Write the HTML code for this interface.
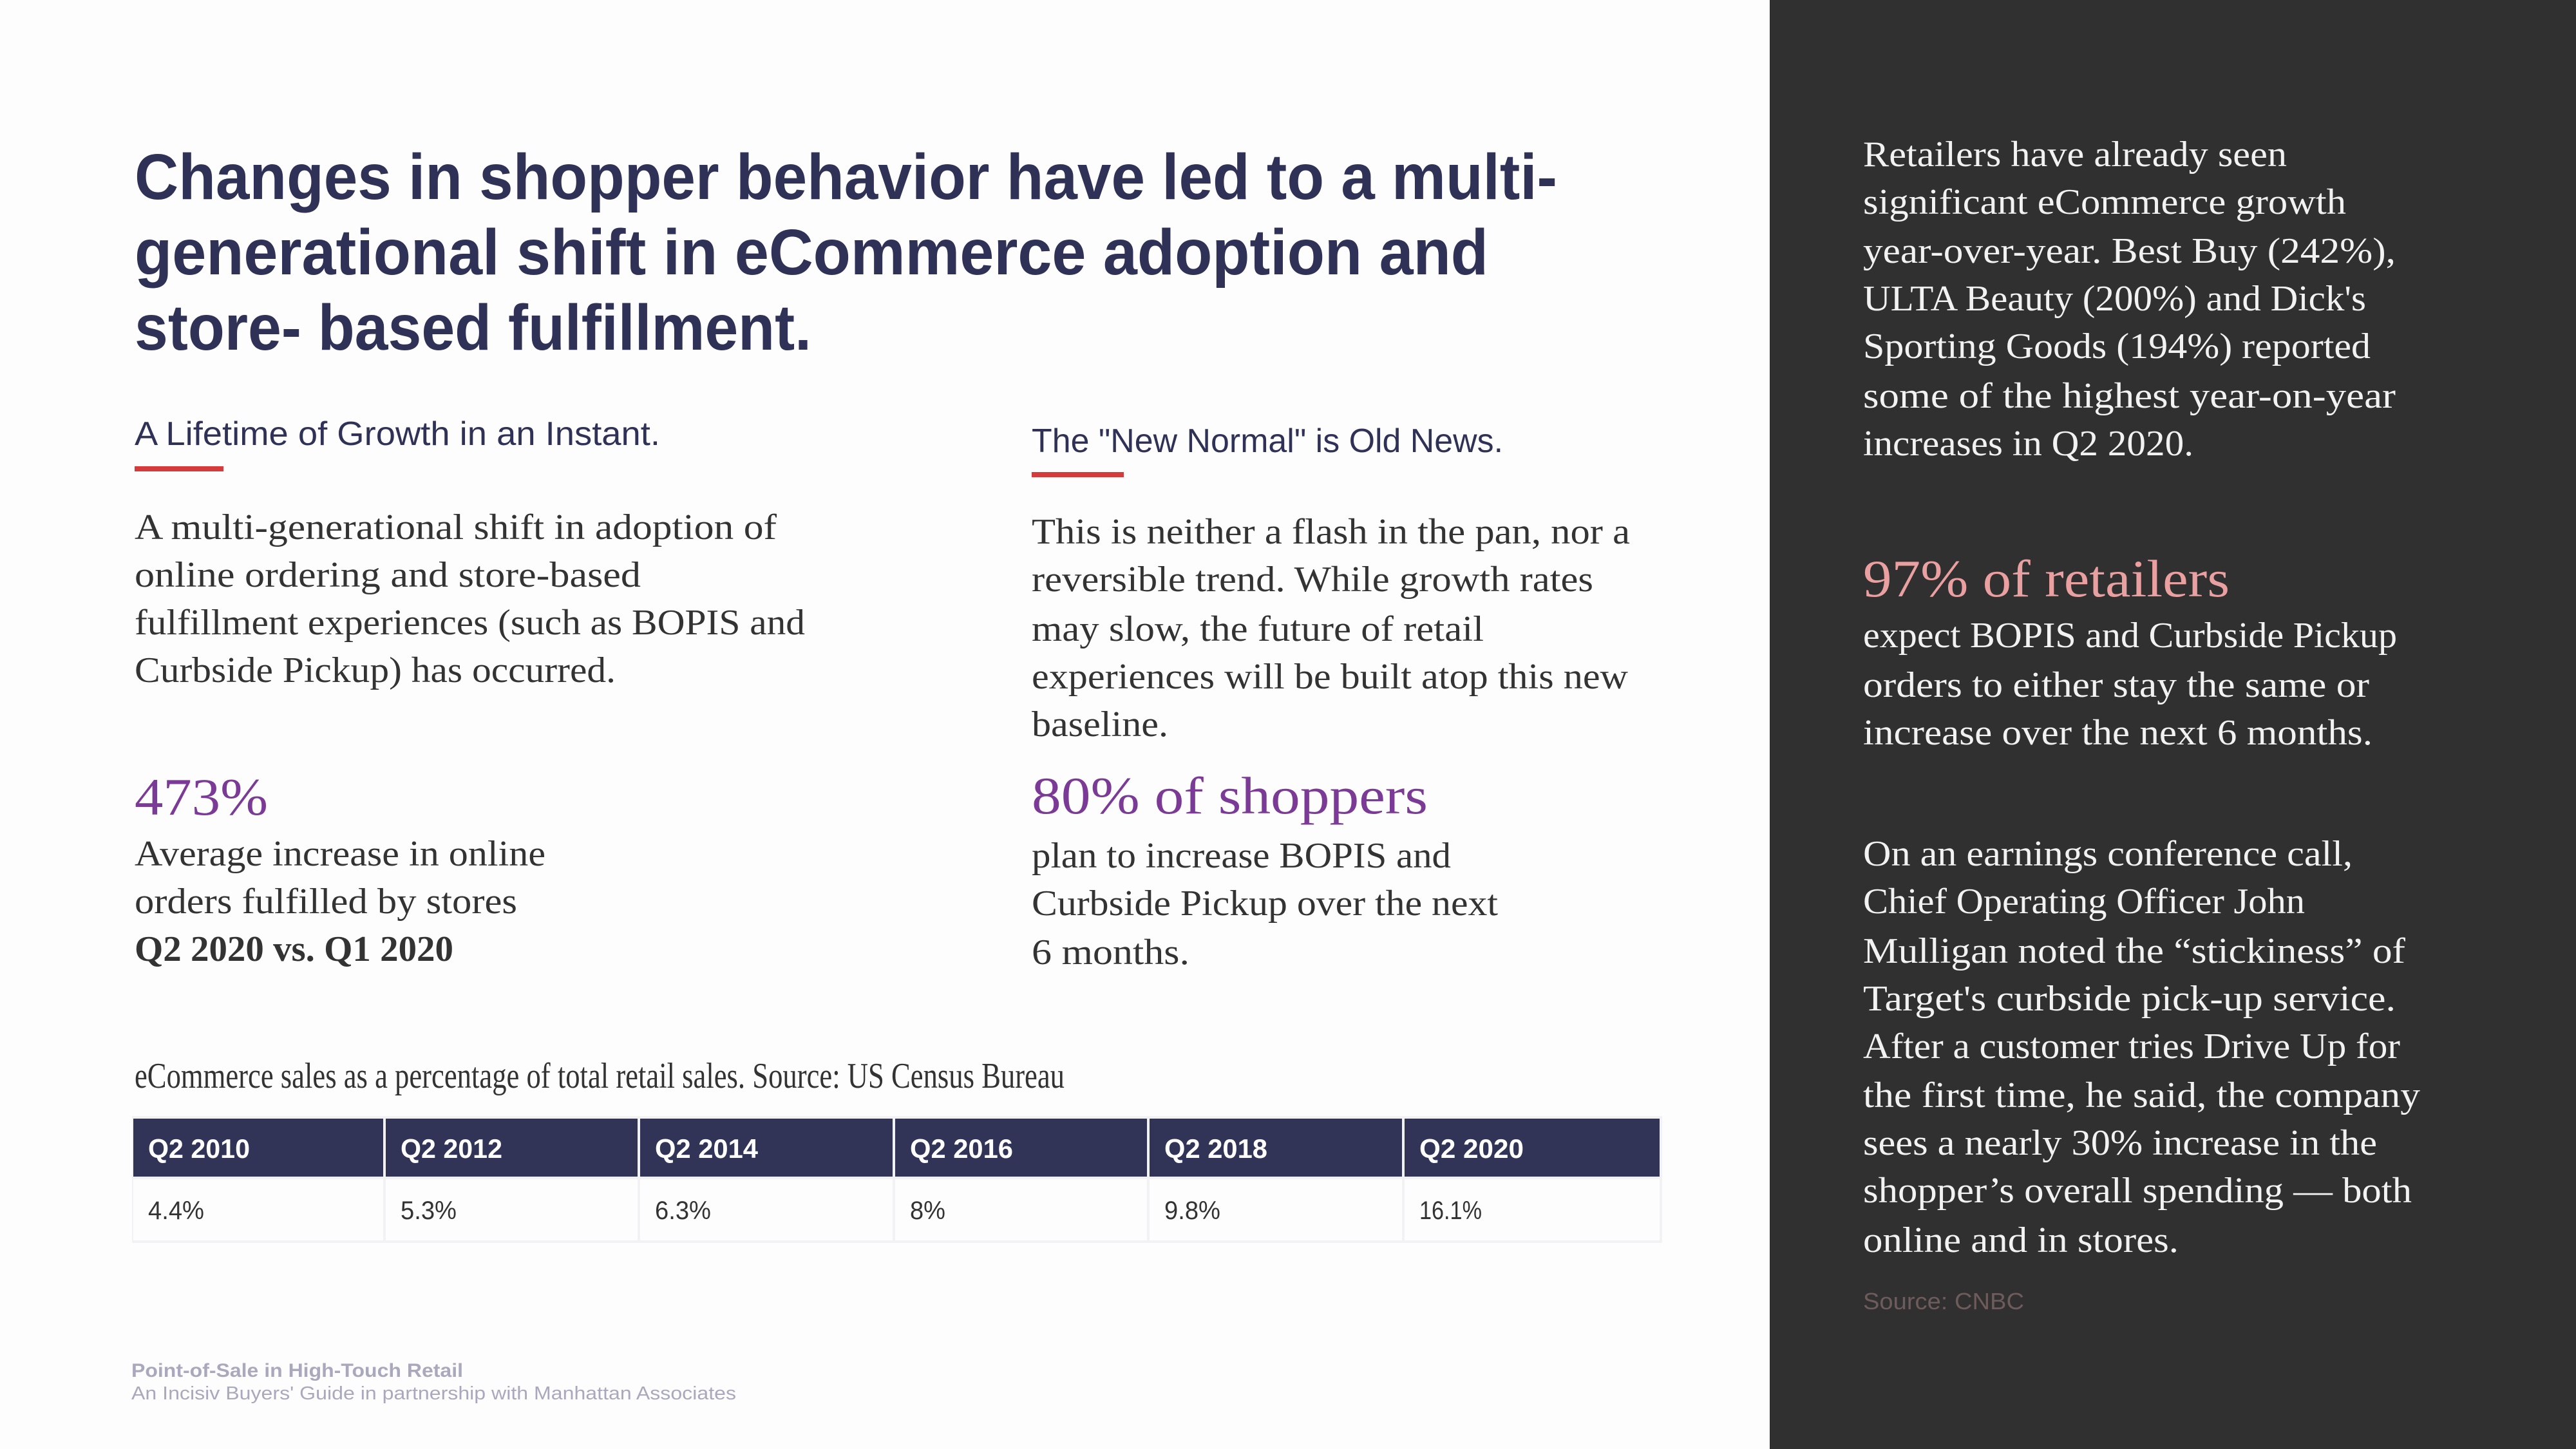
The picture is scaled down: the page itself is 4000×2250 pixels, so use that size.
<!DOCTYPE html>
<html><head><meta charset="utf-8"><style>
html,body{margin:0;padding:0;background:#fdfdfd;}
svg{display:block}
.t{font-family:"Liberation Sans",sans-serif;font-weight:bold;fill:#2f3156;font-size:100px}
.s{font-family:"Liberation Sans",sans-serif;fill:#2f3156;font-size:52px}
.b{font-family:"Liberation Serif",serif;fill:#333;font-size:56px}
.big{font-family:"Liberation Serif",serif;fill:#7b3a96;font-size:82px}
.w{font-family:"Liberation Serif",serif;fill:#f2f2f2;font-size:56px}
.pk{font-family:"Liberation Serif",serif;fill:#eaa0a0;font-size:82px}
.th{font-family:"Liberation Sans",sans-serif;font-weight:bold;fill:#fff;font-size:42px}
.td{font-family:"Liberation Sans",sans-serif;fill:#333;font-size:40px}
</style></head><body>
<svg width="4000" height="2250" viewBox="0 0 4000 2250" xmlns="http://www.w3.org/2000/svg">
<rect width="4000" height="2250" fill="#fdfdfd"/>
<rect x="2748" y="0" width="1252" height="2250" fill="#303030"/>

<text class="t" x="209" y="309" textLength="2209" lengthAdjust="spacingAndGlyphs">Changes in shopper behavior have led to a multi-</text>
<text class="t" x="209" y="426" textLength="2102" lengthAdjust="spacingAndGlyphs">generational shift in eCommerce adoption and</text>
<text class="t" x="209" y="543" textLength="1051" lengthAdjust="spacingAndGlyphs">store- based fulfillment.</text>

<text class="s" x="209" y="691" textLength="816" lengthAdjust="spacingAndGlyphs">A Lifetime of Growth in an Instant.</text>
<rect x="209" y="724" width="138" height="8" fill="#d63b3b"/>
<text class="s" x="1602" y="702" textLength="732" lengthAdjust="spacingAndGlyphs">The "New Normal" is Old News.</text>
<rect x="1602" y="733" width="143" height="8" fill="#d63b3b"/>

<text class="b" x="209" y="837" textLength="997" lengthAdjust="spacingAndGlyphs">A multi-generational shift in adoption of</text>
<text class="b" x="209" y="911" textLength="786" lengthAdjust="spacingAndGlyphs">online ordering and store-based</text>
<text class="b" x="209" y="985" textLength="1041" lengthAdjust="spacingAndGlyphs">fulfillment experiences (such as BOPIS and</text>
<text class="b" x="209" y="1059" textLength="747" lengthAdjust="spacingAndGlyphs">Curbside Pickup) has occurred.</text>

<text class="b" x="1602" y="844" textLength="929" lengthAdjust="spacingAndGlyphs">This is neither a flash in the pan, nor a</text>
<text class="b" x="1602" y="918" textLength="872" lengthAdjust="spacingAndGlyphs">reversible trend. While growth rates</text>
<text class="b" x="1602" y="995" textLength="702" lengthAdjust="spacingAndGlyphs">may slow, the future of retail</text>
<text class="b" x="1602" y="1069" textLength="926" lengthAdjust="spacingAndGlyphs">experiences will be built atop this new</text>
<text class="b" x="1602" y="1143" textLength="212" lengthAdjust="spacingAndGlyphs">baseline.</text>

<text class="big" x="209" y="1265" textLength="207" lengthAdjust="spacingAndGlyphs">473%</text>
<text class="b" x="209" y="1344" textLength="638" lengthAdjust="spacingAndGlyphs">Average increase in online</text>
<text class="b" x="209" y="1418" textLength="594" lengthAdjust="spacingAndGlyphs">orders fulfilled by stores</text>
<text class="b" x="209" y="1492" textLength="495" lengthAdjust="spacingAndGlyphs" font-weight="bold">Q2 2020 vs. Q1 2020</text>

<text class="big" x="1602" y="1263" textLength="615" lengthAdjust="spacingAndGlyphs">80% of shoppers</text>
<text class="b" x="1602" y="1347" textLength="651" lengthAdjust="spacingAndGlyphs">plan to increase BOPIS and</text>
<text class="b" x="1602" y="1421" textLength="724" lengthAdjust="spacingAndGlyphs">Curbside Pickup over the next</text>
<text class="b" x="1602" y="1497" textLength="245" lengthAdjust="spacingAndGlyphs">6 months.</text>

<text class="b" x="209" y="1689" font-size="37" textLength="1444" lengthAdjust="spacingAndGlyphs">eCommerce sales as a percentage of total retail sales. Source: US Census Bureau</text>

<rect x="205" y="1733" width="2376" height="197" fill="#f2f2f4"/>
<g>
<rect x="207" y="1737" width="388" height="90" fill="#313457"/>
<rect x="599" y="1737" width="391" height="90" fill="#313457"/>
<rect x="994" y="1737" width="392" height="90" fill="#313457"/>
<rect x="1390" y="1737" width="391" height="90" fill="#313457"/>
<rect x="1785" y="1737" width="392" height="90" fill="#313457"/>
<rect x="2181" y="1737" width="396" height="90" fill="#313457"/>
<rect x="207" y="1831" width="388" height="95" fill="#fdfdfd"/>
<rect x="599" y="1831" width="391" height="95" fill="#fdfdfd"/>
<rect x="994" y="1831" width="392" height="95" fill="#fdfdfd"/>
<rect x="1390" y="1831" width="391" height="95" fill="#fdfdfd"/>
<rect x="1785" y="1831" width="392" height="95" fill="#fdfdfd"/>
<rect x="2181" y="1831" width="396" height="95" fill="#fdfdfd"/>
</g>
<text class="th" x="230" y="1798" textLength="158" lengthAdjust="spacingAndGlyphs">Q2 2010</text>
<text class="th" x="622" y="1798" textLength="158" lengthAdjust="spacingAndGlyphs">Q2 2012</text>
<text class="th" x="1017" y="1798" textLength="160" lengthAdjust="spacingAndGlyphs">Q2 2014</text>
<text class="th" x="1413" y="1798" textLength="160" lengthAdjust="spacingAndGlyphs">Q2 2016</text>
<text class="th" x="1808" y="1798" textLength="160" lengthAdjust="spacingAndGlyphs">Q2 2018</text>
<text class="th" x="2204" y="1798" textLength="162" lengthAdjust="spacingAndGlyphs">Q2 2020</text>
<text class="td" x="230" y="1893" textLength="87" lengthAdjust="spacingAndGlyphs">4.4%</text>
<text class="td" x="622" y="1893" textLength="87" lengthAdjust="spacingAndGlyphs">5.3%</text>
<text class="td" x="1017" y="1893" textLength="87" lengthAdjust="spacingAndGlyphs">6.3%</text>
<text class="td" x="1413" y="1893" textLength="55" lengthAdjust="spacingAndGlyphs">8%</text>
<text class="td" x="1808" y="1893" textLength="87" lengthAdjust="spacingAndGlyphs">9.8%</text>
<text class="td" x="2204" y="1893" textLength="97" lengthAdjust="spacingAndGlyphs">16.1%</text>

<text x="204" y="2138" font-family="Liberation Sans, sans-serif" font-weight="bold" font-size="30" fill="#aaa8bd" textLength="515" lengthAdjust="spacingAndGlyphs">Point-of-Sale in High-Touch Retail</text>
<text x="204" y="2173" font-family="Liberation Sans, sans-serif" font-size="29" fill="#aaa8bd" textLength="939" lengthAdjust="spacingAndGlyphs">An Incisiv Buyers' Guide in partnership with Manhattan Associates</text>

<text class="w" x="2893" y="258" textLength="658" lengthAdjust="spacingAndGlyphs">Retailers have already seen</text>
<text class="w" x="2893" y="332" textLength="750" lengthAdjust="spacingAndGlyphs">significant eCommerce growth</text>
<text class="w" x="2893" y="408" textLength="827" lengthAdjust="spacingAndGlyphs">year-over-year. Best Buy (242%),</text>
<text class="w" x="2893" y="482" textLength="781" lengthAdjust="spacingAndGlyphs">ULTA Beauty (200%) and Dick's</text>
<text class="w" x="2893" y="556" textLength="788" lengthAdjust="spacingAndGlyphs">Sporting Goods (194%) reported</text>
<text class="w" x="2893" y="633" textLength="827" lengthAdjust="spacingAndGlyphs">some of the highest year-on-year</text>
<text class="w" x="2893" y="707" textLength="513" lengthAdjust="spacingAndGlyphs">increases in Q2 2020.</text>

<text class="pk" x="2893" y="926" textLength="569" lengthAdjust="spacingAndGlyphs">97% of retailers</text>
<text class="w" x="2893" y="1005" textLength="829" lengthAdjust="spacingAndGlyphs">expect BOPIS and Curbside Pickup</text>
<text class="w" x="2893" y="1082" textLength="786" lengthAdjust="spacingAndGlyphs">orders to either stay the same or</text>
<text class="w" x="2893" y="1156" textLength="791" lengthAdjust="spacingAndGlyphs">increase over the next 6 months.</text>

<text class="w" x="2893" y="1344" textLength="760" lengthAdjust="spacingAndGlyphs">On an earnings conference call,</text>
<text class="w" x="2893" y="1418" textLength="686" lengthAdjust="spacingAndGlyphs">Chief Operating Officer John</text>
<text class="w" x="2893" y="1495" textLength="842" lengthAdjust="spacingAndGlyphs">Mulligan noted the “stickiness” of</text>
<text class="w" x="2893" y="1569" textLength="827" lengthAdjust="spacingAndGlyphs">Target's curbside pick-up service.</text>
<text class="w" x="2893" y="1643" textLength="834" lengthAdjust="spacingAndGlyphs">After a customer tries Drive Up for</text>
<text class="w" x="2893" y="1719" textLength="865" lengthAdjust="spacingAndGlyphs">the first time, he said, the company</text>
<text class="w" x="2893" y="1793" textLength="798" lengthAdjust="spacingAndGlyphs">sees a nearly 30% increase in the</text>
<text class="w" x="2893" y="1867" textLength="852" lengthAdjust="spacingAndGlyphs">shopper’s overall spending — both</text>
<text class="w" x="2893" y="1944" textLength="490" lengthAdjust="spacingAndGlyphs">online and in stores.</text>
<text x="2893" y="2033" font-family="Liberation Sans, sans-serif" font-size="36" fill="#6e5c5c" textLength="250" lengthAdjust="spacingAndGlyphs">Source: CNBC</text>
</svg>
</body></html>
